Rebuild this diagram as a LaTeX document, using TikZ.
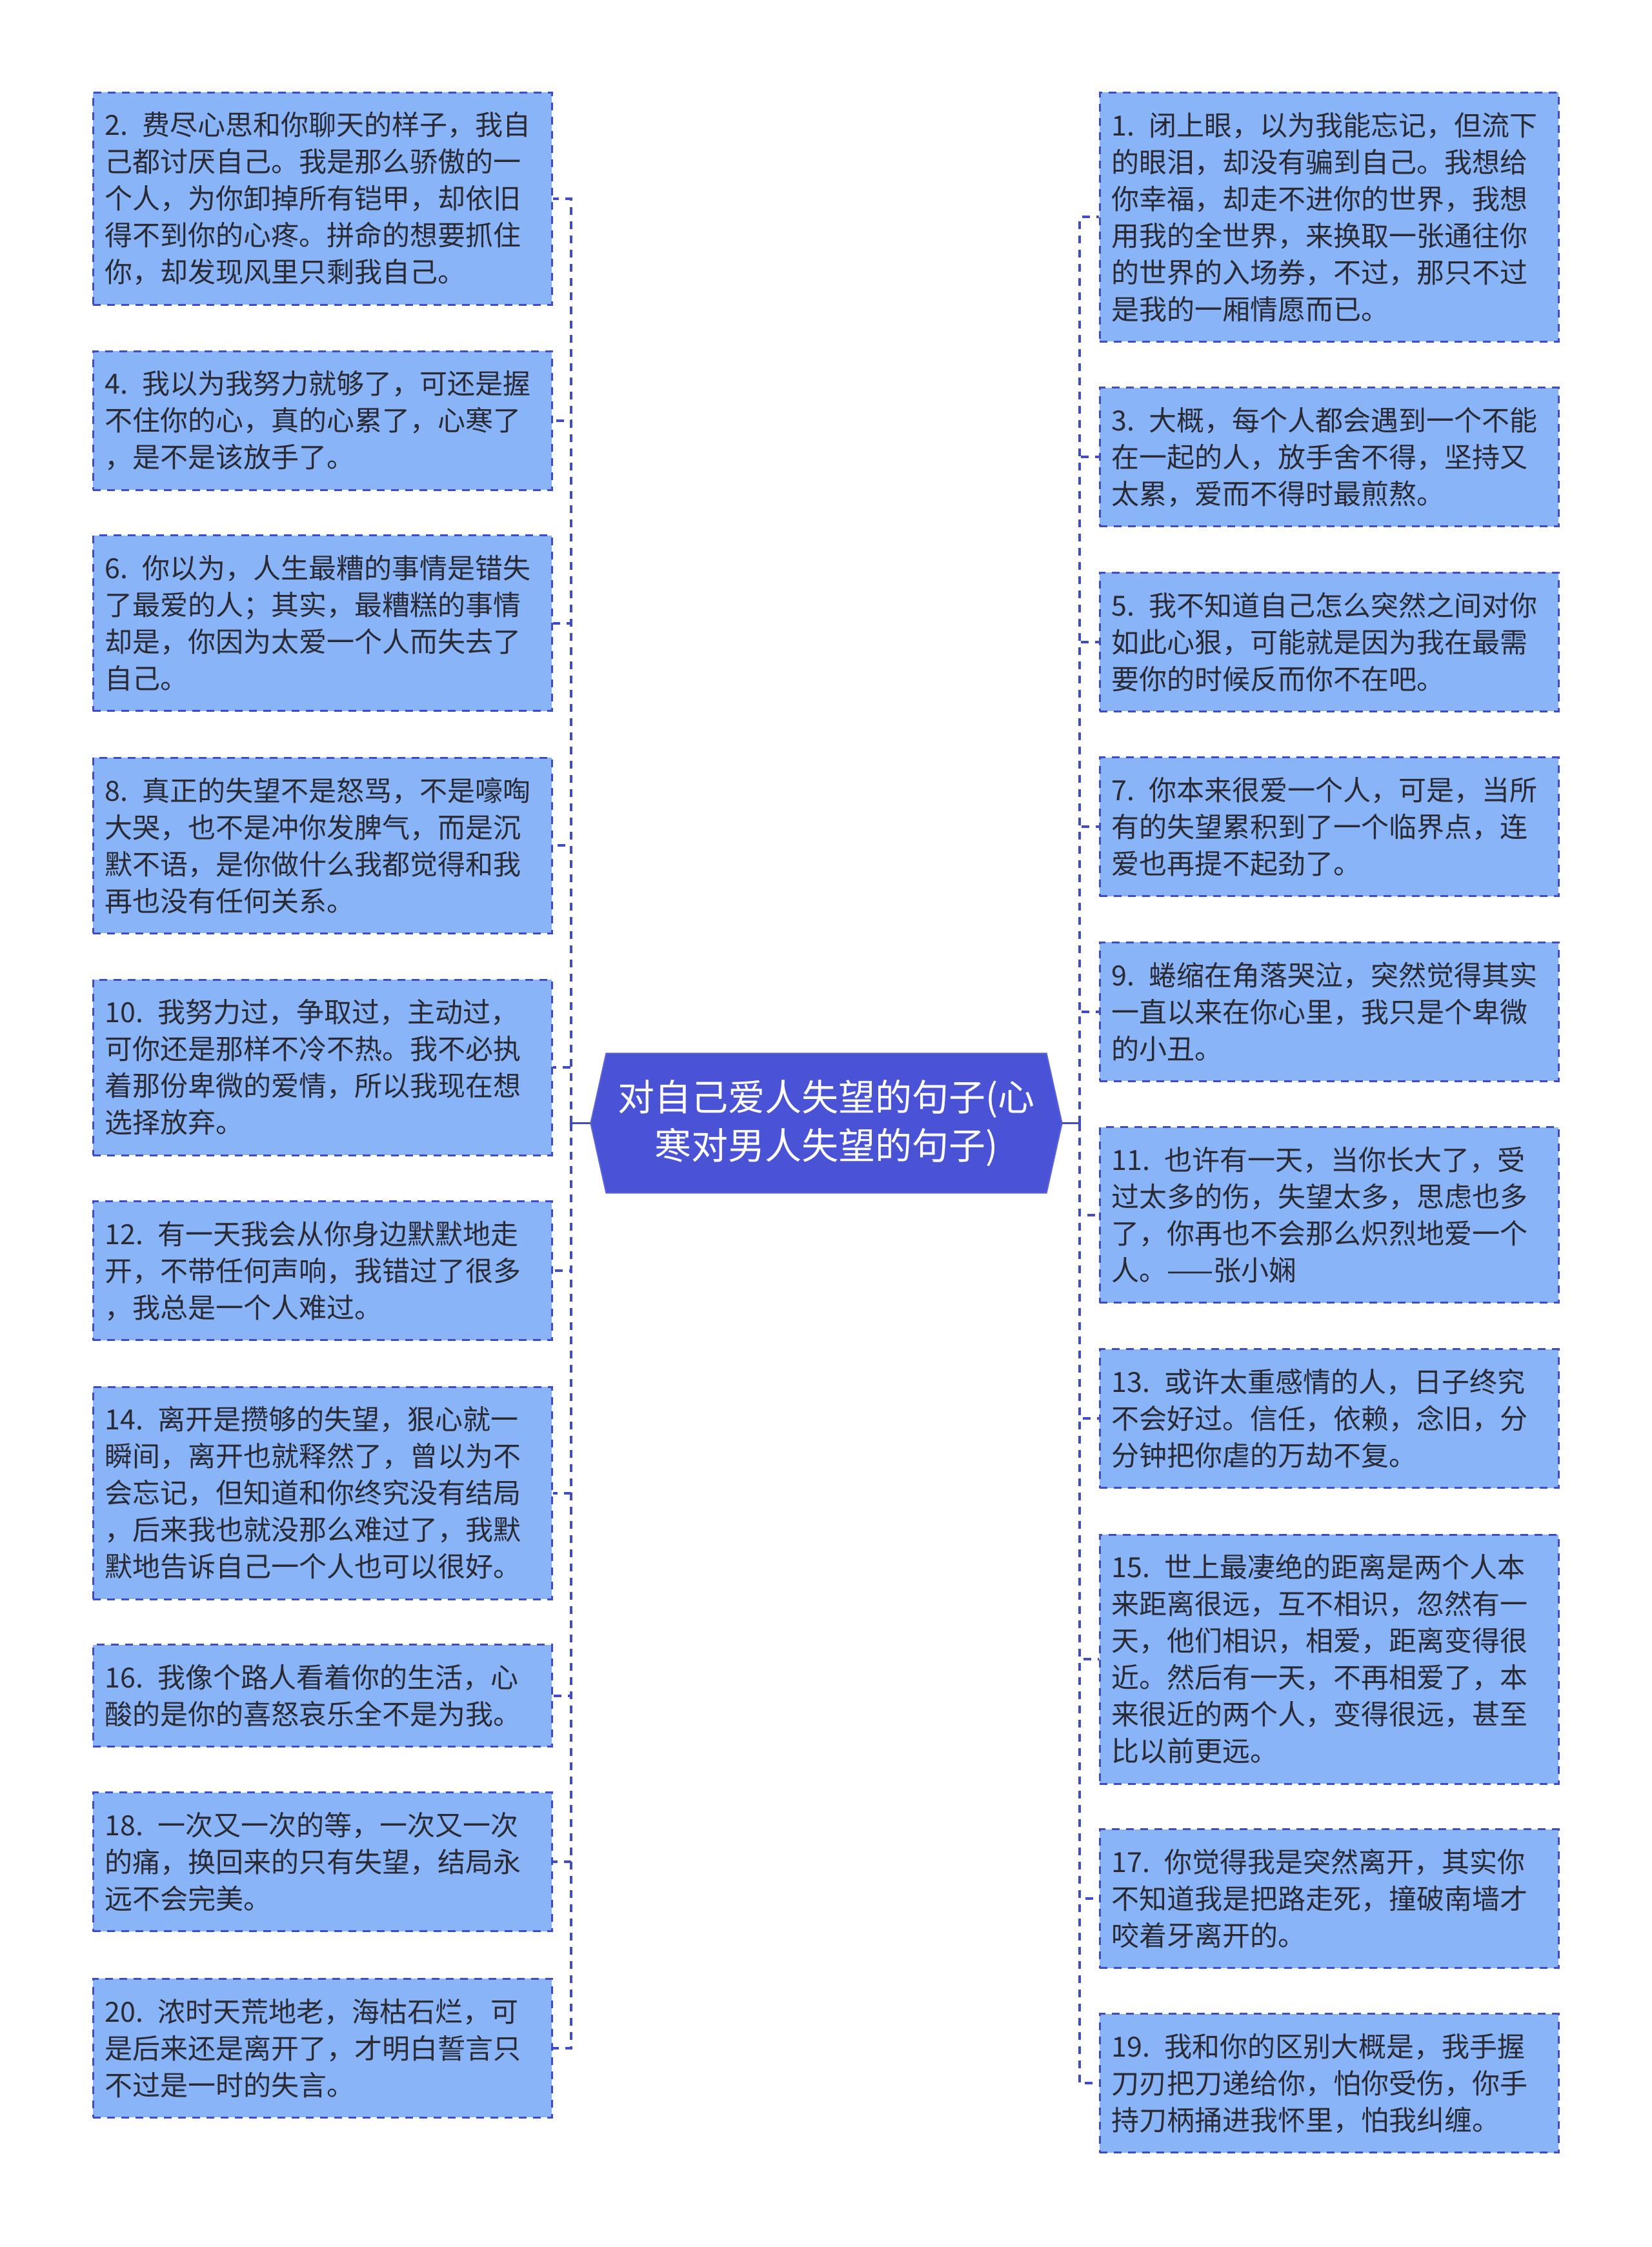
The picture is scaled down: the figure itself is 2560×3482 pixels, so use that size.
\documentclass[tikz,border=0pt]{standalone}
\usepackage{fontspec}
\setmainfont[WordSpace=0.55]{Noto Sans CJK SC}
\usepackage{xcolor}
\usepackage{tikz}
\usetikzlibrary{backgrounds, calc}

\definecolor{leafblue}{HTML}{8AB4F8}
\definecolor{edgeblue}{HTML}{3F4BC8}
\definecolor{rootblue}{HTML}{4A52D6}
\definecolor{inktext}{HTML}{2A2A34}

\newcommand{\leaffont}{\fontsize{12.9pt}{17.1pt}\selectfont}
\newcommand{\rootfont}{\fontsize{17.1pt}{22.5pt}\selectfont}

\tikzset{
  leaf/.style={draw=edgeblue, fill=leafblue, line width=0.9pt, dash pattern=on 3.6pt off 3pt,
    text=inktext, font=\leaffont, align=left, text width=202pt, inner xsep=5.6pt, inner ysep=0pt,
    minimum width=213.3pt},
  rootbox/.style={text=white, font=\rootfont, align=center, inner sep=0pt,
    minimum width=204.3pt, minimum height=64.5pt},
  link/.style={edgeblue, line width=1.2pt, dash pattern=on 3.6pt off 3pt},
  stem/.style={edgeblue, line width=0.9pt}
}

\begin{document}
\begin{tikzpicture}[x=0.3pt, y=-0.3pt]
  \useasboundingbox (0,0) rectangle (2560,3482);

  % centre topic
  \node[rootbox] (root) at (1280.5,1740.5) {对自己爱人失望的句子(心\\寒对男人失望的句子)};
  \begin{scope}[on background layer]
    \filldraw[fill=rootblue, draw=rootblue!90!white, line width=0.6pt]
      (root.north west) -- ([xshift=-7.2pt]root.west) -- (root.south west)
      -- (root.south east) -- ([xshift=7.2pt]root.east) -- (root.north east) -- cycle;
  \end{scope}

  % left column (even numbers)
  \node[leaf, minimum height=98.7pt] (q2) at (499.5,307.5) {2. 费尽心思和你聊天的样子，我自\\己都讨厌自己。我是那么骄傲的一\\个人，为你卸掉所有铠甲，却依旧\\得不到你的心疼。拼命的想要抓住\\你，却发现风里只剩我自己。};
  \node[leaf, minimum height=64.5pt] (q4) at (499.5,651.7) {4. 我以为我努力就够了，可还是握\\不住你的心，真的心累了，心寒了\\，是不是该放手了。};
  \node[leaf, minimum height=81.6pt] (q6) at (499.5,965.8) {6. 你以为，人生最糟的事情是错失\\了最爱的人；其实，最糟糕的事情\\却是，你因为太爱一个人而失去了\\自己。};
  \node[leaf, minimum height=81.6pt] (q8) at (499.5,1310) {8. 真正的失望不是怒骂，不是嚎啕\\大哭，也不是冲你发脾气，而是沉\\默不语，是你做什么我都觉得和我\\再也没有任何关系。};
  \node[leaf, minimum height=81.6pt] (q10) at (499.5,1654) {10. 我努力过，争取过，主动过，\\可你还是那样不冷不热。我不必执\\着那份卑微的爱情，所以我现在想\\选择放弃。};
  \node[leaf, minimum height=64.5pt] (q12) at (499.5,1969.4) {12. 有一天我会从你身边默默地走\\开，不带任何声响，我错过了很多\\，我总是一个人难过。};
  \node[leaf, minimum height=98.7pt] (q14) at (499.5,2313.6) {14. 离开是攒够的失望，狠心就一\\瞬间，离开也就释然了，曾以为不\\会忘记，但知道和你终究没有结局\\，后来我也就没那么难过了，我默\\默地告诉自己一个人也可以很好。};
  \node[leaf, minimum height=47.4pt] (q16) at (499.5,2627.8) {16. 我像个路人看着你的生活，心\\酸的是你的喜怒哀乐全不是为我。};
  \node[leaf, minimum height=64.5pt] (q18) at (499.5,2885.3) {18. 一次又一次的等，一次又一次\\的痛，换回来的只有失望，结局永\\远不会完美。};
  \node[leaf, minimum height=64.5pt] (q20) at (499.5,3173.9) {20. 浓时天荒地老，海枯石烂，可\\是后来还是离开了，才明白誓言只\\不过是一时的失言。};

  % right column (odd numbers)
  \node[leaf, minimum height=115.8pt] (q1) at (2059.5,336.4) {1. 闭上眼，以为我能忘记，但流下\\的眼泪，却没有骗到自己。我想给\\你幸福，却走不进你的世界，我想\\用我的全世界，来换取一张通往你\\的世界的入场券，不过，那只不过\\是我的一厢情愿而已。};
  \node[leaf, minimum height=64.5pt] (q3) at (2059.5,708.3) {3. 大概，每个人都会遇到一个不能\\在一起的人，放手舍不得，坚持又\\太累，爱而不得时最煎熬。};
  \node[leaf, minimum height=64.5pt] (q5) at (2059.5,994.7) {5. 我不知道自己怎么突然之间对你\\如此心狠，可能就是因为我在最需\\要你的时候反而你不在吧。};
  \node[leaf, minimum height=64.5pt] (q7) at (2059.5,1281) {7. 你本来很爱一个人，可是，当所\\有的失望累积到了一个临界点，连\\爱也再提不起劲了。};
  \node[leaf, minimum height=64.5pt] (q9) at (2059.5,1567.5) {9. 蜷缩在角落哭泣，突然觉得其实\\一直以来在你心里，我只是个卑微\\的小丑。};
  \node[leaf, minimum height=81.6pt] (q11) at (2059.5,1882.8) {11. 也许有一天，当你长大了，受\\过太多的伤，失望太多，思虑也多\\了，你再也不会那么炽烈地爱一个\\人。——张小娴};
  \node[leaf, minimum height=64.5pt] (q13) at (2059.5,2198) {13. 或许太重感情的人，日子终究\\不会好过。信任，依赖，念旧，分\\分钟把你虐的万劫不复。};
  \node[leaf, minimum height=115.8pt] (q15) at (2059.5,2571) {15. 世上最凄绝的距离是两个人本\\来距离很远，互不相识，忽然有一\\天，他们相识，相爱，距离变得很\\近。然后有一天，不再相爱了，本\\来很近的两个人，变得很远，甚至\\比以前更远。};
  \node[leaf, minimum height=64.5pt] (q17) at (2059.5,2942) {17. 你觉得我是突然离开，其实你\\不知道我是把路走死，撞破南墙才\\咬着牙离开的。};
  \node[leaf, minimum height=64.5pt] (q19) at (2059.5,3228.3) {19. 我和你的区别大概是，我手握\\刀刃把刀递给你，怕你受伤，你手\\持刀柄捅进我怀里，怕我纠缠。};

  % branch points on the two spines
  \coordinate (ljoin) at (885,1740.5);
  \coordinate (rjoin) at (1673,1740.5);
  \draw[stem] ([xshift=-7.2pt]root.west) -- (ljoin);
  \draw[stem] ([xshift=7.2pt]root.east) -- (rjoin);

  % dashed connectors
  \foreach \n in {2,4,...,20}
    \draw[link] (ljoin) |- (q\n.east);
  \foreach \n in {1,3,...,19}
    \draw[link] (rjoin) |- (q\n.west);

\end{tikzpicture}
\end{document}
